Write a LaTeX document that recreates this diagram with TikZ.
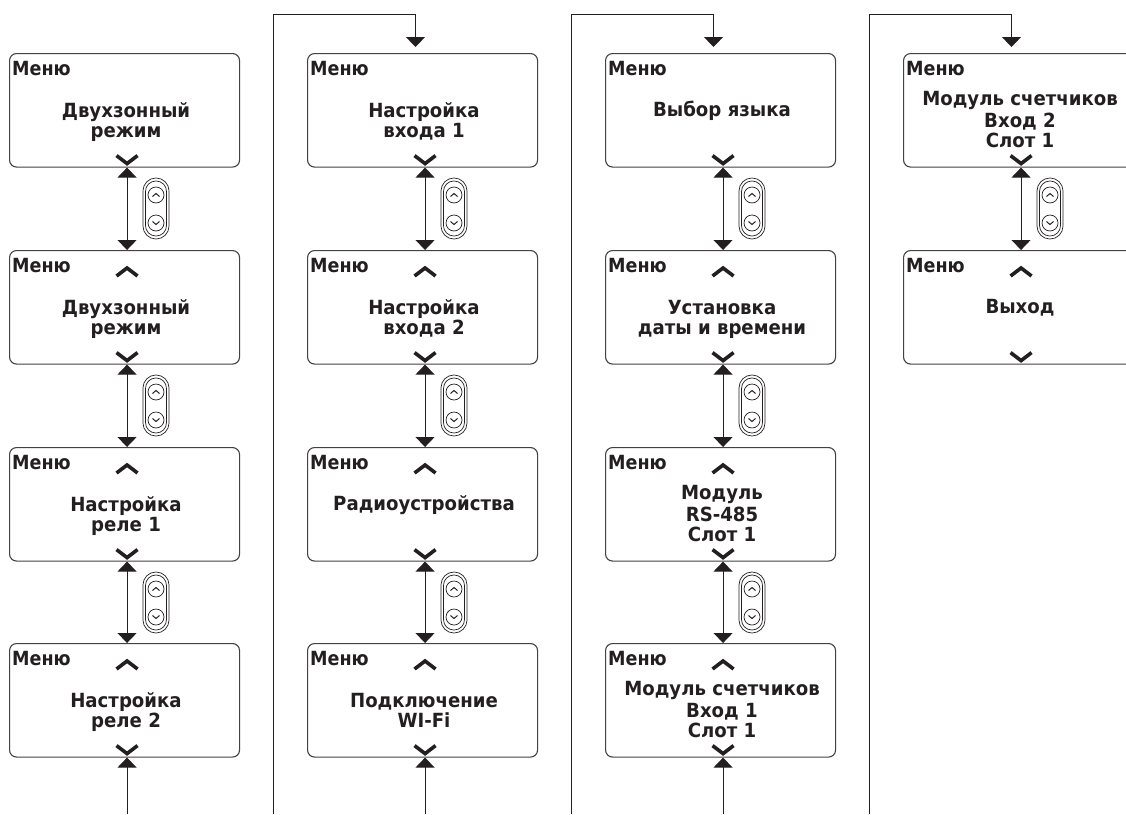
\documentclass[tikz,border=0pt]{standalone}
\usepackage{fontspec}
\newfontfamily\lcdfont{DejaVu Sans}[BoldFeatures={FakeStretch=0.93}]
\newfontfamily\lcdhead{DejaVu Sans}[BoldFeatures={FakeStretch=0.90}]
\usetikzlibrary{arrows.meta}
\definecolor{ink}{HTML}{231F20}
\tikzset{
  x=1pt,y=-1pt,
  screen/.style={draw=ink!85,line width=1.1pt,rounded corners=7pt,minimum width=230pt,minimum height=113.5pt,inner sep=0pt,anchor=north west},
  lcd/.style={font=\lcdfont\bfseries\fontsize{19.5}{20}\selectfont,text=ink,inner sep=0pt,anchor=base},
  lcdl/.style={font=\lcdhead\bfseries\fontsize{19.5}{20}\selectfont,text=ink,inner sep=0pt,anchor=base west},
  chev/.style={draw=ink,line width=3.6pt,miter limit=10},
  link/.style={draw=ink,line width=1pt,-{Triangle[width=19pt,length=10pt]}},
  dlink/.style={draw=ink,line width=1pt,{Triangle[width=19pt,length=10pt]}-{Triangle[width=19pt,length=10pt]}},
  fine/.style={draw=ink,line width=.7pt},
  finechev/.style={draw=ink,line width=1pt},
}
% #1 screen x  #2 screen y  #3 name
\newcommand{\screenbox}[3]{%
  \node[screen] (#3) at (#1,#2) {};
  \node[lcdl] (#3m) at (#1+3,#2+22) {Меню};
}
\newcommand{\upchev}[1]{%
  \draw[chev] ([xshift=-8pt,yshift=-26pt]#1.north) -- ++(10.5,-8) -- ++(10.5,8);
}
\newcommand{\downchev}[1]{%
  \draw[chev] ([xshift=-8pt,yshift=12pt]#1.south) -- ++(10.5,8) -- ++(10.5,-8);
}
% button icon: #1 centre x, #2 top y
\newcommand{\btn}[2]{%
  \draw[fine,rounded corners=12.9pt] (#1-13,#2) rectangle (#1+13,#2+61);
  \draw[fine,rounded corners=10.4pt] (#1-10.5,#2+3) rectangle (#1+10.5,#2+58);
  \draw[fine,fill=white] (#1,#2+17) circle[radius=8];
  \draw[fine,fill=white] (#1,#2+45) circle[radius=8];
  \draw[finechev] (#1-3.5,#2+18.5) -- ++(3.5,-3) -- ++(3.5,3);
  \draw[finechev] (#1-3.5,#2+43.5) -- ++(3.5,3) -- ++(3.5,-3);
}
\begin{document}
\begin{tikzpicture}
\useasboundingbox (0,0) rectangle (1126,814);
\clip (0,0) rectangle (1126,814);
% screens
\foreach \c/\x in {1/9,2/307,3/605,4/903}{
  \foreach \r/\y in {1/53,2/250,3/447,4/643}{
    \ifnum\c=4 \ifnum\r>2 \else \screenbox{\x}{\y}{b\c\r}\fi
    \else \screenbox{\x}{\y}{b\c\r}\fi
  }
}
% chevrons
\foreach \n in {b11,b12,b13,b14,b21,b22,b23,b24,b31,b32,b33,b34,b41,b42}{\downchev{\n}}
\foreach \n in {b12,b13,b14,b22,b23,b24,b32,b33,b34,b42}{\upchev{\n}}
% texts
\node[lcd] (t11a) at (126,117) {Двухзонный};
\node[lcd] (t11b) at (126,137) {режим};
\node[lcd] (t12a) at (126,314) {Двухзонный};
\node[lcd] (t12b) at (126,334) {режим};
\node[lcd] (t13a) at (126,511) {Настройка};
\node[lcd] (t13b) at (126,531) {реле 1};
\node[lcd] (t14a) at (126,707) {Настройка};
\node[lcd] (t14b) at (126,727) {реле 2};
\node[lcd] (t21a) at (424,117) {Настройка};
\node[lcd] (t21b) at (424,137) {входа 1};
\node[lcd] (t22a) at (424,314) {Настройка};
\node[lcd] (t22b) at (424,334) {входа 2};
\node[lcd] (t23a) at (424,510) {Радиоустройства};
\node[lcd] (t24a) at (424,707) {Подключение};
\node[lcd] (t24b) at (424,727) {WI-Fi};
\node[lcd] (t31a) at (722,116) {Выбор языка};
\node[lcd] (t32a) at (722,314) {Установка};
\node[lcd] (t32b) at (722,334) {даты и времени};
\node[lcd] (t33a) at (722,499) {Модуль};
\node[lcd] (t33b) at (722,521) {RS-485};
\node[lcd] (t33c) at (722,541) {Слот 1};
\node[lcd] (t34a) at (722,695) {Модуль счетчиков};
\node[lcd] (t34b) at (722,717) {Вход 1};
\node[lcd] (t34c) at (722,737) {Слот 1};
\node[lcd] (t41a) at (1020,105) {Модуль счетчиков};
\node[lcd] (t41b) at (1020,127) {Вход 2};
\node[lcd] (t41c) at (1020,147) {Слот 1};
\node[lcd] (t42a) at (1020,313) {Выход};
% double arrows between screens
\foreach \c in {1,2,3}{
  \draw[dlink] ([xshift=2.5pt]b\c1.south) -- ([xshift=2.5pt]b\c2.north);
  \draw[dlink] ([xshift=2.5pt]b\c2.south) -- ([xshift=2.5pt]b\c3.north);
  \draw[dlink] ([xshift=2.5pt]b\c3.south) -- ([xshift=2.5pt]b\c4.north);
}
\draw[dlink] ([xshift=2.5pt]b41.south) -- ([xshift=2.5pt]b42.north);
% bottom stubs
\foreach \c in {1,2,3}{
  \coordinate (s\c) at ([xshift=2.5pt]b\c4.south |- 0,814);
  \draw[link] (s\c) -- ([xshift=2.5pt]b\c4.south);
}
% loops to next column
\foreach \c/\x/\t in {2/273.5/415.5,3/571.5/713.5,4/869.5/1011.5}{
  \coordinate (ls\c) at (\x,814);
  \coordinate (lc\c) at (\x,14);
  \coordinate (lt\c) at (\t,14);
  \coordinate (le\c) at (\t,47);
  \draw[link] (ls\c) -- (lc\c) -- (lt\c) -- (le\c);
}
% buttons
\foreach \x in {156,454,752}{
  \foreach \y in {178,375,572}{\btn{\x}{\y}}
}
\btn{1050}{178}
\end{tikzpicture}
\end{document}
